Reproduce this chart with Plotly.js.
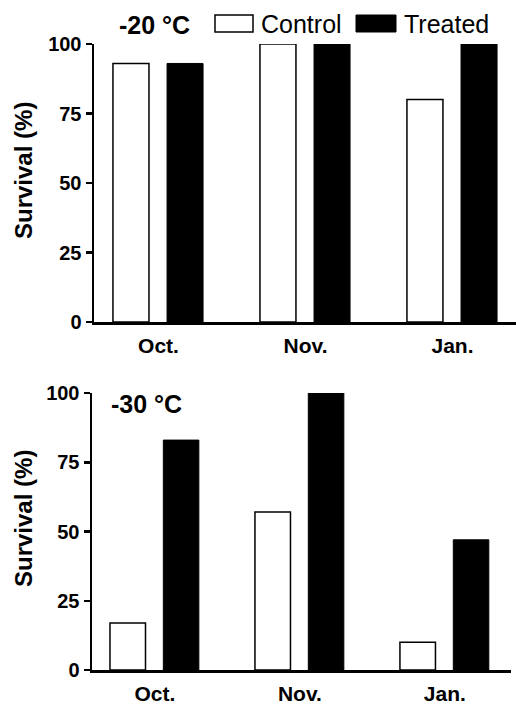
<!DOCTYPE html>
<html>
<head>
<meta charset="utf-8">
<script src="https://cdn.plot.ly/plotly-3.0.1.min.js"></script>
<style>
  html, body { margin: 0; padding: 0; background: #fff; }
  #chart { width: 516px; height: 705px; }
</style>
</head>
<body>
<div id="chart"></div>
<script>
// ---- Data ----
const categories = ['Oct.', 'Nov.', 'Jan.'];
const control20 = [93, 100, 80];
const treated20 = [93, 100, 100];
const control30 = [17, 57, 10];
const treated30 = [83, 100, 47];
const yTicks = [0, 25, 50, 75, 100];
const panelLabels = ['-20 °C', '-30 °C'];
const seriesNames = ['Control', 'Treated'];
const yTitle = 'Survival (%)';

// ---- Styling ----
const FONT = 'Liberation Sans, Arial, Helvetica, sans-serif';
const barW = 0.245;
const offControl = -0.31;
const offTreated = 0.058;

function ctrlTrace(y, xa, ya) {
  return {
    type: 'bar', x: categories, y: y, xaxis: xa, yaxis: ya,
    name: seriesNames[0], width: barW, offset: offControl,
    marker: { color: '#ffffff', line: { color: '#000000', width: 1.5 } },
    showlegend: false, hoverinfo: 'x+y'
  };
}
function treatTrace(y, xa, ya) {
  return {
    type: 'bar', x: categories, y: y, xaxis: xa, yaxis: ya,
    name: seriesNames[1], width: barW, offset: offTreated,
    marker: { color: '#000000', line: { color: '#000000', width: 1 } },
    showlegend: false, hoverinfo: 'x+y'
  };
}

const data = [
  ctrlTrace(control20, 'x', 'y'),
  treatTrace(treated20, 'x', 'y'),
  ctrlTrace(control30, 'x2', 'y2'),
  treatTrace(treated30, 'x2', 'y2')
];

const W = 516, H = 705;
const px = v => v / W;
const py = v => (H - v) / H;

function xAxis(domain, range, anchor) {
  return {
    domain: domain, range: range, anchor: anchor, type: 'category',
    showline: true, linecolor: '#000', linewidth: 2.5,
    showgrid: false, zeroline: false, ticks: '',
    ticklabelstandoff: 3,
    tickfont: { family: FONT, size: 21, color: '#000', weight: 'bold' },
    fixedrange: true
  };
}
function yAxis(domain, anchor) {
  return {
    domain: domain, range: [0, 100], anchor: anchor,
    tickvals: yTicks, ticktext: yTicks.map(String),
    showline: true, linecolor: '#000', linewidth: 2.5,
    showgrid: false, zeroline: false,
    ticks: 'outside', ticklen: 6, tickwidth: 2.5, tickcolor: '#000',
    tickfont: { family: FONT, size: 20, color: '#000', weight: 'bold' },
    fixedrange: true
  };
}

const layout = {
  width: W, height: H,
  margin: { l: 0, r: 0, t: 0, b: 0, pad: 0 },
  paper_bgcolor: '#fff', plot_bgcolor: 'rgba(0,0,0,0)',
  showlegend: false,
  barmode: 'overlay',
  font: { family: FONT, color: '#000' },
  xaxis: xAxis([px(94), 1], [-0.439, 2.432], 'y'),
  yaxis: yAxis([py(322), py(44)], 'x'),
  xaxis2: xAxis([px(92), px(511)], [-0.434, 2.456], 'y2'),
  yaxis2: yAxis([py(670), py(393)], 'x2'),
  shapes: [
    { type: 'rect', xref: 'paper', yref: 'paper',
      x0: px(215), x1: px(253), y0: py(32), y1: py(15),
      fillcolor: '#fff', line: { color: '#000', width: 1.5 } },
    { type: 'rect', xref: 'paper', yref: 'paper',
      x0: px(356), x1: px(396), y0: py(32), y1: py(15),
      fillcolor: '#000', line: { color: '#000', width: 1 } }
  ],
  annotations: [
    { text: panelLabels[0], xref: 'paper', yref: 'paper', x: px(117), y: py(25),
      xanchor: 'left', yanchor: 'middle', showarrow: false,
      font: { family: FONT, size: 25, color: '#000', weight: 'bold' } },
    { text: panelLabels[1], xref: 'paper', yref: 'paper', x: px(109), y: py(404),
      xanchor: 'left', yanchor: 'middle', showarrow: false,
      font: { family: FONT, size: 25, color: '#000', weight: 'bold' } },
    { text: seriesNames[0], xref: 'paper', yref: 'paper', x: px(259), y: py(24),
      xanchor: 'left', yanchor: 'middle', showarrow: false,
      font: { family: FONT, size: 25, color: '#000' } },
    { text: seriesNames[1], xref: 'paper', yref: 'paper', x: px(402), y: py(24),
      xanchor: 'left', yanchor: 'middle', showarrow: false,
      font: { family: FONT, size: 25, color: '#000' } },
    { text: yTitle, xref: 'paper', yref: 'paper', x: px(23), y: py(171),
      xanchor: 'center', yanchor: 'middle', textangle: -90, showarrow: false,
      font: { family: FONT, size: 24, color: '#000', weight: 'bold' } },
    { text: yTitle, xref: 'paper', yref: 'paper', x: px(23), y: py(519),
      xanchor: 'center', yanchor: 'middle', textangle: -90, showarrow: false,
      font: { family: FONT, size: 24, color: '#000', weight: 'bold' } }
  ]
};

Plotly.newPlot('chart', data, layout, { displayModeBar: false, staticPlot: true });
</script>
</body>
</html>
